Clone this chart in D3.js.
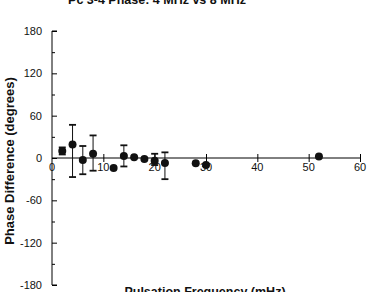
<!DOCTYPE html>
<html>
<head>
<meta charset="utf-8">
<script src="https://cdn.jsdelivr.net/npm/d3@7"></script>
<style>
  body { margin: 0; background: #fff; }
  svg { display: block; font-family: "Liberation Sans", Arial, sans-serif; }
  .tick-label { font-size: 11px; fill: #111; }
  .title { font-size: 12.5px; font-weight: bold; fill: #111; }
</style>
</head>
<body>
<svg id="chart"></svg>
<script>
// frequency (mHz), phase difference (deg), error bar low / high (deg, null = none)
const freq  = [2, 4, 6, 8, 12, 14, 16, 18, 20, 22, 28, 30, 52];
const phase = [10, 19, -3, 6, -14, 3, 1, -1.5, -4, -7, -7.5, -10, 2];
const errLo = [5, -27, -23, -18, null, -12, null, null, -10, -30, null, null, null];
const errHi = [15, 47, 17, 32, null, 18, null, null, 6, 8, null, null, null];

const xTicks = [0, 10, 20, 30, 40, 50, 60];
const yTicks = [180, 120, 60, 0, -60, -120, -180];
const yMinor = [150, 90, 30, -30, -90, -150];

const width = 369;
const height = 292;

const svg = d3.select('#chart')
  .attr('width', width)
  .attr('height', height);

const data = freq.map((f, i) => ({ f: f, p: phase[i], lo: errLo[i], hi: errHi[i] }));

// scales
const x = d3.scaleLinear().domain([0, 60]).range([52, 360]);
const y = d3.scaleLinear().domain([-180, 180]).range([285, 31]);

// title (cut at top of the picture, as in the source)
svg.append('text')
  .attr('class', 'title')
  .attr('x', 157)
  .attr('y', 4)
  .attr('text-anchor', 'middle')
  .text('Pc 3-4 Phase:  4 MHz vs 8 MHz');

// y axis
const yAxis = d3.axisRight(y).tickValues(yTicks).tickSize(5).tickFormat('');
const gy = svg.append('g')
  .attr('transform', `translate(${x(0)},0)`)
  .call(yAxis);
gy.select('.domain').attr('d', `M5,${y(180)}H0V${y(-180)}H5`);

svg.append('g')
  .attr('transform', `translate(${x(0)},0)`)
  .call(d3.axisRight(y).tickValues(yMinor).tickSize(3).tickFormat(''))
  .select('.domain').remove();

svg.selectAll('.ylab')
  .data(yTicks)
  .enter()
  .append('text')
  .attr('class', 'tick-label')
  .attr('x', 42)
  .attr('y', (d) => y(d) + 4)
  .attr('text-anchor', 'end')
  .text((d) => d);

// x axis through zero
const gx = svg.append('g')
  .attr('transform', `translate(0,${y(0)})`)
  .call(d3.axisBottom(x).tickValues(xTicks.slice(1)).tickSize(4).tickFormat(''));
gx.select('.domain').attr('d', `M${x(0)},0H${x(60)}`);
gx.selectAll('.tick line').attr('y1', -4).attr('y2', 4);

svg.selectAll('.xlab')
  .data(xTicks)
  .enter()
  .append('text')
  .attr('class', 'tick-label')
  .attr('x', (d) => x(d))
  .attr('y', y(0) + 13)
  .attr('text-anchor', 'middle')
  .text((d) => d);

// error bars
const eb = data.filter((d) => d.lo !== null);
const ebG = svg.append('g').attr('stroke', '#111').attr('stroke-width', 1);
ebG.selectAll('.eb')
  .data(eb)
  .enter()
  .append('line')
  .attr('x1', (d) => x(d.f)).attr('x2', (d) => x(d.f))
  .attr('y1', (d) => y(d.lo)).attr('y2', (d) => y(d.hi));
ebG.selectAll('.capHi')
  .data(eb)
  .enter()
  .append('line')
  .attr('stroke-width', 1.8)
  .attr('x1', (d) => x(d.f) - 3.5).attr('x2', (d) => x(d.f) + 3.5)
  .attr('y1', (d) => y(d.hi)).attr('y2', (d) => y(d.hi));
ebG.selectAll('.capLo')
  .data(eb)
  .enter()
  .append('line')
  .attr('stroke-width', 1.8)
  .attr('x1', (d) => x(d.f) - 3.5).attr('x2', (d) => x(d.f) + 3.5)
  .attr('y1', (d) => y(d.lo)).attr('y2', (d) => y(d.lo));

// points
svg.selectAll('circle')
  .data(data)
  .enter()
  .append('circle')
  .attr('cx', (d) => x(d.f))
  .attr('cy', (d) => y(d.p))
  .attr('r', 4)
  .attr('fill', '#111');

// axis titles
svg.append('text')
  .attr('class', 'title')
  .attr('x', 205)
  .attr('y', 296)
  .attr('text-anchor', 'middle')
  .text('Pulsation Frequency (mHz)');

svg.append('text')
  .attr('class', 'title')
  .attr('text-anchor', 'middle')
  .style('font-size', '13px')
  .attr('transform', `translate(14, 161) rotate(-90)`)
  .text('Phase Difference (degrees)');
</script>
</body>
</html>
